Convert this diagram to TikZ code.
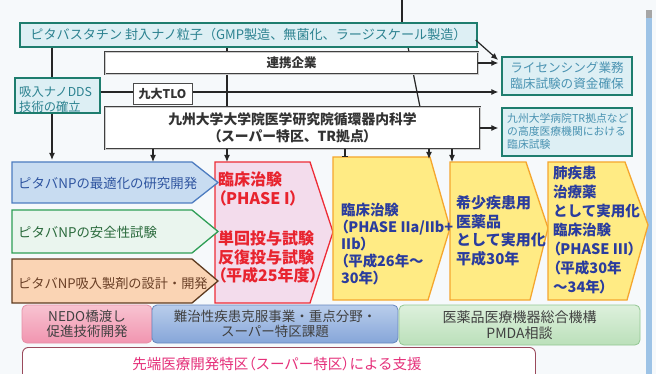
\documentclass[tikz,border=0pt]{standalone}
\usepackage{fontspec}
\setmainfont{Noto Sans CJK JP}
\newfontfamily\jpp[RawFeature=+palt]{Noto Sans CJK JP}
\usetikzlibrary{arrows.meta,calc}
\newcommand\jfs[2]{\fontsize{#1}{#2}\selectfont}
\newcommand\lpp{{\jpp （}}
\newcommand\rpp{{\jpp ）}}
\definecolor{bgc}{HTML}{F6F9FB}
\definecolor{tealB}{HTML}{1E7D6E}
\definecolor{tealF}{HTML}{DDEFF4}
\definecolor{tealT}{HTML}{2C8290}
\definecolor{licT}{HTML}{4A93B2}
\definecolor{bluB}{HTML}{4D7CC0}
\definecolor{bluF}{HTML}{C8DCF1}
\definecolor{bluT}{HTML}{2F55A0}
\definecolor{grnB}{HTML}{2E9E55}
\definecolor{grnF}{HTML}{EAF5EE}
\definecolor{grnT}{HTML}{2A6A3C}
\definecolor{orgB}{HTML}{5E3B20}
\definecolor{orgF}{HTML}{FAD4B4}
\definecolor{orgT}{HTML}{6A4027}
\definecolor{redB}{HTML}{EE2C36}
\definecolor{redF}{HTML}{F3DCEC}
\definecolor{redT}{HTML}{E8232E}
\definecolor{yelB}{HTML}{F5A62E}
\definecolor{yelF}{HTML}{FFEB84}
\definecolor{yelT}{HTML}{2A3C9E}
\definecolor{nedoB}{HTML}{E58FA6}
\definecolor{nedoT}{HTML}{F8C3D1}
\definecolor{nedoBt}{HTML}{F195B0}
\definecolor{nanB}{HTML}{6687BE}
\definecolor{nanT}{HTML}{B9CDEB}
\definecolor{nanBt}{HTML}{86A6D9}
\definecolor{pmB}{HTML}{93C793}
\definecolor{pmT}{HTML}{DDF0DC}
\definecolor{pmBt}{HTML}{BBE0BA}
\definecolor{supB}{HTML}{9A4A5C}
\definecolor{supT}{HTML}{E5307A}
\definecolor{barC}{HTML}{9DC3E6}
\begin{document}
\begin{tikzpicture}[x=1pt,y=-1pt,
  tealbox/.style={draw=tealB, fill=tealF, line width=1.3pt, inner sep=0pt},
  dbl/.style={draw=black!75, double=black!20, double distance=0.9pt, line width=0.9pt, fill=white, inner sep=0pt},
  conn/.style={line width=1.2pt, draw=black!85},
  arr/.style={conn, -{Latex[length=7pt,width=6pt]}},
  txt/.style={inner sep=0pt, align=left},
  chev/.style={line width=1.3pt, line join=miter},
  botbox/.style={rounded corners=5pt, line width=0.8pt, inner sep=0pt, align=center, text=black!75, font=\jfs{13.5}{15}}
]
\clip (0,0) rectangle (656,374);
\useasboundingbox (0,0) rectangle (656,374);
\fill[bgc] (0,0) rectangle (656,374);
\fill[barC] (646,10) rectangle (652,374);
\fill[black!35] (646,10) rectangle (652,18);

% lines behind boxes
\coordinate (topin) at (402,0);
\draw[conn] (227,0 |- 0,47) -- (227,0 |- 0,107);
\draw[conn] (408,47) -- (420,107);
\draw[conn] (52,47) -- (52,78);
\draw[conn] (topin) -- (402,23);

% upper boxes
\node[tealbox, minimum width=457pt, minimum height=24pt, text=tealT, font=\jfs{13.1}{15}] (top) at (248.5,35) {ピタバスタチン 封入ナノ粒子（GMP製造、無菌化、ラージスケール製造）};
\node[dbl, minimum width=373pt, minimum height=22pt, font=\bfseries\jfs{12.5}{14}, text=black!80] (ren) at (291.5,63) {連携企業};
\node[tealbox, minimum width=85pt, minimum height=35pt] (dds) at (57.5,95.5) {};
\node[txt, anchor=west, text=tealT, font=\jfs{12.3}{15}] (ddst) at (19,99.5) {吸入ナノDDS\\技術の確立};
\node[dbl, minimum width=375pt, minimum height=42pt, align=center, font=\bfseries\jfs{13.8}{17}, text=black!80] (kyu) at (292.5,128) {九州大学大学院医学研究院循環器内科学\\\lpp スーパー特区、TR拠点\rpp};
\node[tealbox, minimum width=130pt, minimum height=38pt, align=left, text=licT, font=\jfs{12.6}{16}] (lic) at (567,76) {ライセンシング業務\\臨床試験の資金確保};
\node[tealbox, minimum width=130pt, minimum height=48pt] (tr) at (567,132) {};
\node[txt, anchor=west, text=licT, font=\jfs{10.8}{13}] (trt) at (507,131.5) {九州大学病院TR拠点など\\の高度医療機関における\\臨床試験};

% connectors to right boxes
\draw[conn] (top.south -| 52,0) -- (dds.north -| 52,0);
\draw[arr, shorten >=3pt] ($(top.east)+(-2,5)$) -- ($(lic.west)+(-1,-14)$);
\draw[arr, shorten >=3pt] (ren.east) -- (ren.east -| lic.west);
\draw[arr, shorten >=3pt] (dds.east |- 0,92) -- (lic.west |- 0,92);
\draw[arr, shorten >=3pt] (kyu.east) -- (kyu.east -| tr.west);
\node[draw=black!70, line width=0.9pt, fill=white, minimum width=59pt, minimum height=21pt, inner sep=0pt, font=\bfseries\jfs{12}{14}, text=black!80] (tlo) at (162.5,93.5) {九大TLO};

% chevrons
\draw[chev, draw=redB, fill=redF] (215,162) -- (310,162) -- (333,232) -- (310,303) -- (215,303) -- cycle;
\draw[chev, draw=yelB, fill=yelF] (333,157) -- (430,157) -- (450,228) -- (428,300) -- (333,300) -- cycle;
\draw[chev, draw=yelB, fill=yelF] (450,162) -- (526,162) -- (548,228) -- (530,300) -- (450,300) -- cycle;
\draw[chev, draw=yelB, fill=yelF] (548,162) -- (625,162) -- (648,225) -- (627,300) -- (548,300) -- cycle;
\draw[chev, draw=bluB, fill=bluF] (12,162) -- (192,162) -- (218,182.5) -- (192,203) -- (12,203) -- cycle;
\draw[chev, draw=grnB, fill=grnF] (12,210) -- (192,210) -- (218,231.5) -- (192,253) -- (12,253) -- cycle;
\draw[chev, draw=orgB, fill=orgF] (12,259) -- (192,259) -- (218,281) -- (192,303) -- (12,303) -- cycle;

\node[txt, anchor=west, text=bluT, font=\jfs{13.4}{15}] (t1) at (18,183) {ピタバNPの最適化の研究開発};
\node[txt, anchor=west, text=grnT, font=\jfs{13.4}{15}] (t2) at (18,232) {ピタバNPの安全性試験};
\node[txt, anchor=west, text=orgT, font=\jfs{13.2}{15}] (t3) at (18,284) {ピタバNP吸入製剤の設計・開発};

\node[txt, anchor=west, text=redT, font=\bfseries\jfs{16}{18.5}] (r1) at (218,189) {臨床治験\\\lpp PHASE I\rpp};
\node[txt, anchor=west, text=redT, font=\bfseries\jfs{16}{18.5}] (r2) at (218,257) {単回投与試験\\反復投与試験\\\lpp 平成25年度\rpp};
\node[txt, anchor=west, text=yelT, font=\bfseries\jfs{14.4}{16.8}] (y1) at (341,244) {臨床治験\\\lpp PHASE IIa/IIb+\\IIb\rpp\\\lpp 平成26年～\\30年\rpp};
\node[txt, anchor=west, text=yelT, font=\bfseries\jfs{15}{18.7}] (y2) at (456,231) {希少疾患用\\医薬品\\として実用化\\平成30年};
\node[txt, anchor=west, text=yelT, font=\bfseries\jfs{14.5}{19}] (y3) at (553,230) {肺疾患\\治療薬\\として実用化\\臨床治験\\\lpp PHASE III\rpp\\\lpp 平成30年\\～34年\rpp};

% downward arrows
\coordinate (bt1) at (52,160);
\coordinate (bt2) at (153,162);
\coordinate (bt3) at (227,162);
\coordinate (bt4) at (345,157);
\coordinate (bt5) at (429,159);
\coordinate (bt6) at (452,162);
\draw[arr] (dds.south -| bt1) -- (bt1);
\draw[arr] (kyu.south -| bt2) -- (bt2);
\draw[arr] (kyu.south -| bt3) -- (bt3);
\draw[conn, -{Bar[width=6pt,line width=1pt]}] (kyu.south -| bt4) -- (bt4);
\draw[arr] (kyu.south -| bt5) -- (bt5);
\draw[arr] (kyu.south -| bt6) -- (bt6);

% bottom boxes
\node[botbox, draw=nedoB, top color=nedoT, bottom color=nedoBt, minimum width=130pt, minimum height=38pt] (nedo) at (87,324) {NEDO橋渡し\\促進技術開発};
\node[botbox, draw=nanB, top color=nanT, bottom color=nanBt, minimum width=246pt, minimum height=38pt] (nan) at (275,324) {難治性疾患克服事業・重点分野・\\スーパー特区課題};
\node[botbox, draw=pmB, top color=pmT, bottom color=pmBt, minimum width=241pt, minimum height=40pt, font=\jfs{14}{15.5}] (pmda) at (519.5,325) {医薬品医療機器総合機構\\PMDA相談};
\node[draw=supB, fill=white, rounded corners=6pt, line width=0.9pt, minimum width=513pt, minimum height=45pt, anchor=north west, inner sep=0pt] (sup) at (22,347) {};
\node[inner sep=0pt, text=supT, font=\jfs{14.5}{16}] (supt) at (277,364) {先端医療開発特区\lpp スーパー特区\rpp による支援};
\end{tikzpicture}
\end{document}
